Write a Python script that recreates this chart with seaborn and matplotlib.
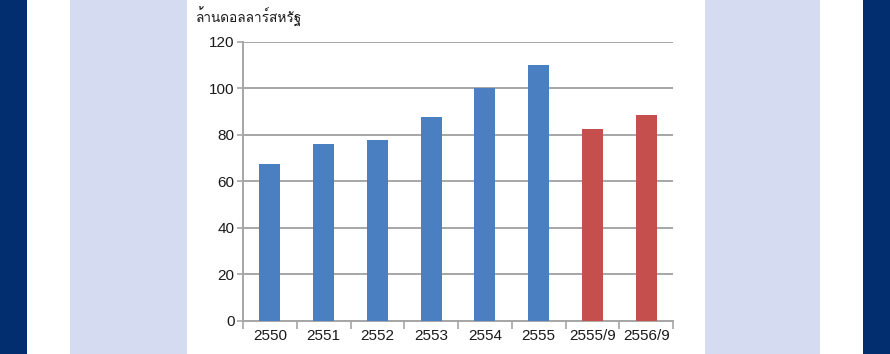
import matplotlib
matplotlib.use("Agg")
import matplotlib.pyplot as plt
import seaborn as sns
import pandas as pd
from matplotlib import font_manager
from matplotlib.ft2font import FT2Font
from matplotlib.patches import Rectangle
from matplotlib.ticker import FixedLocator

categories = ["2550", "2551", "2552", "2553", "2554", "2555", "2555/9", "2556/9"]
values = [67.4, 76.0, 77.5, 87.5, 100.2, 109.8, 82.3, 88.3]
kind = ["year", "year", "year", "year", "year", "year", "ytd", "ytd"]
y_ticks = [0, 20, 40, 60, 80, 100, 120]
unit_label = "ล้านดอลลาร์สหรัฐ"

sns.set_theme(style="white")

# find a font that has Thai glyphs
thai_font = None
for f in font_manager.fontManager.ttflist:
    try:
        cm = FT2Font(f.fname).get_charmap()
        if 0x0E25 in cm and 0x0E49 in cm and 0x0E2A in cm:
            thai_font = f.name
            break
    except Exception:
        pass

base_families = ["Liberation Sans", "DejaVu Sans"]
plt.rcParams["font.family"] = base_families

fig = plt.figure(figsize=(8.9, 3.54), dpi=100)
W, H = 890, 354

def band(x0, x1, color):
    fig.patches.append(Rectangle((x0 / W, 0), (x1 - x0) / W, 1, transform=fig.transFigure,
                                 facecolor=color, edgecolor="none", zorder=-10))

band(0, 27, "#022D6E")
band(863, 890, "#022D6E")
band(70, 187, "#D5DBF0")
band(705, 820, "#D5DBF0")

ax = fig.add_axes([243 / W, 1 - 321 / H, (673 - 243) / W, (321 - 41.5) / H])
ax.set_facecolor("white")

df = pd.DataFrame({"cat": categories, "val": values, "kind": kind})
sns.barplot(data=df, x="cat", y="val", hue="kind",
            palette={"year": "#4A7FC1", "ytd": "#C44F4D"}, saturation=1,
            width=0.39, dodge=False, legend=False, ax=ax, zorder=3,
            edgecolor="none")

ax.set_ylim(0, 120)
ax.set_xlim(-0.5, len(categories) - 0.5)
ax.set_yticks(y_ticks)
ax.yaxis.grid(True, color="#A6A6A6", linewidth=1.4, zorder=0)
ax.set_axisbelow(True)
ax.set_xlabel("")
ax.set_ylabel("")

for s in ["top", "right"]:
    ax.spines[s].set_visible(False)
for s in ["left", "bottom"]:
    ax.spines[s].set_color("#A6A6A6")
    ax.spines[s].set_linewidth(1.4)

ax.tick_params(axis="y", which="major", length=4, width=1.2, color="#A6A6A6",
               labelsize=11, labelcolor="#1a1a1a", pad=2, left=True)
ax.tick_params(axis="x", which="major", length=0, labelsize=11, labelcolor="#1a1a1a", pad=6)
ax.xaxis.set_minor_locator(FixedLocator([i - 0.5 for i in range(len(categories) + 1)]))
ax.tick_params(axis="x", which="minor", length=5.5, width=1.2, color="#A6A6A6", bottom=True)

fam = [thai_font] + base_families if thai_font else base_families
fig.text(196 / W, 1 - 17 / H, unit_label, fontsize=9.8, family=fam,
         va="center", ha="left", color="#1a1a1a")

fig.savefig("out.png", dpi=100)
